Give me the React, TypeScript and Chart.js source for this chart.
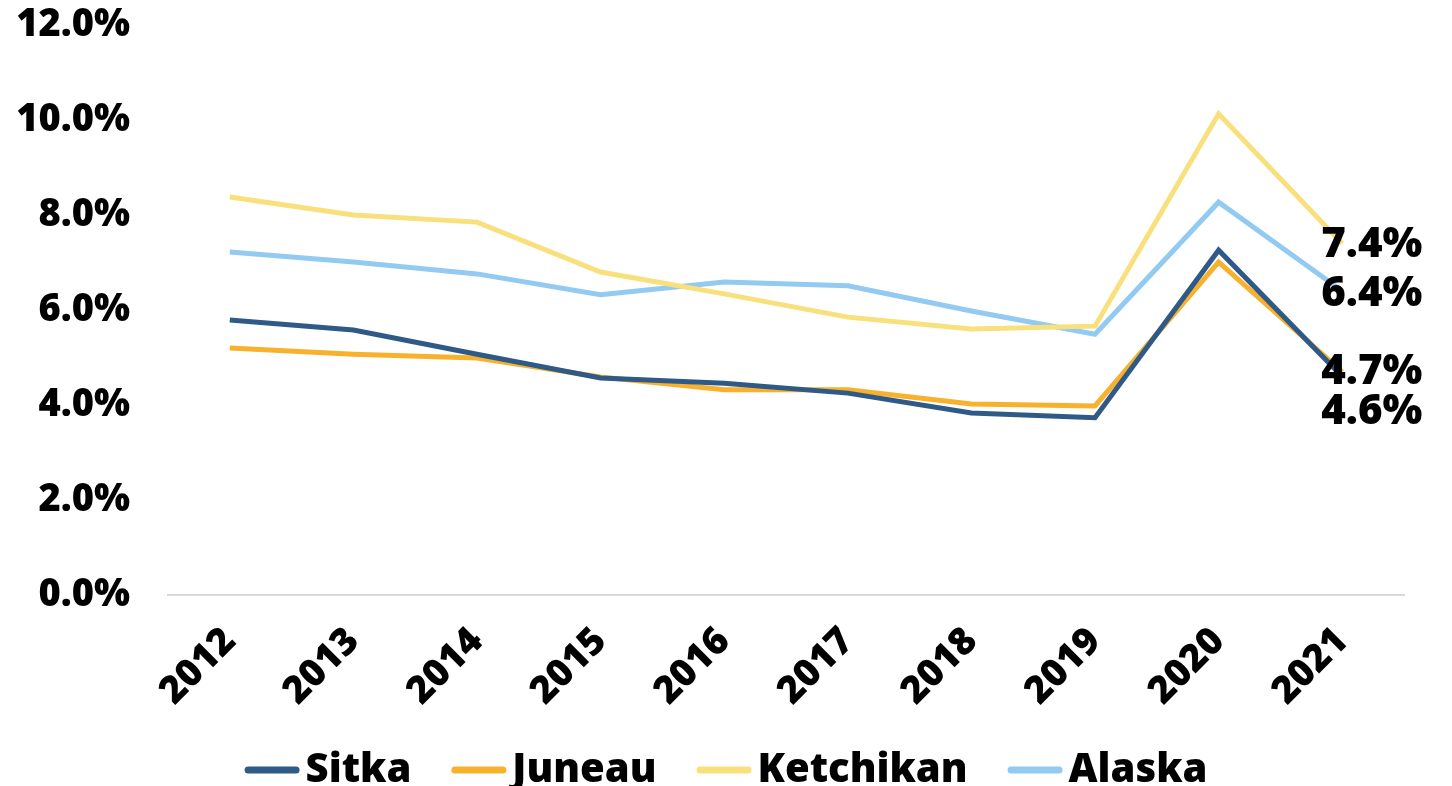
import React, { useEffect, useRef } from "react";
import { Chart, registerables } from "chart.js";

Chart.register(...registerables);

const years = ["2012", "2013", "2014", "2015", "2016", "2017", "2018", "2019", "2020", "2021"];
const sitka = [5.79, 5.58, 5.07, 4.57, 4.46, 4.25, 3.83, 3.73, 7.26, 4.6];
const juneau = [5.2, 5.07, 4.99, 4.59, 4.32, 4.32, 4.02, 3.98, 7.01, 4.7];
const ketchikan = [8.38, 8.0, 7.85, 6.8, 6.34, 5.85, 5.6, 5.66, 10.13, 7.4];
const alaska = [7.22, 7.01, 6.76, 6.32, 6.59, 6.51, 5.98, 5.49, 8.27, 6.4];
const yTicks = [0, 2, 4, 6, 8, 10, 12];

const FONT = "'Open Sans'";

const endLabels = {
  id: "endLabels",
  afterDatasetsDraw(chart: any) {
    const ctx = chart.ctx;
    const offsets = [36, 0, 2, 3];
    ctx.save();
    ctx.font = `800 42px ${FONT}`;
    ctx.fillStyle = "#000";
    ctx.textAlign = "left";
    ctx.textBaseline = "middle";
    chart.data.datasets.forEach((ds: any, i: number) => {
      const meta = chart.getDatasetMeta(i);
      const n = ds.data.length - 1;
      const pt = meta.data[n];
      if (!pt) return;
      ctx.fillText(Number(ds.data[n]).toFixed(1) + "%", pt.x - 21, pt.y + offsets[i]);
    });
    ctx.restore();
  },
};

const bottomLegend = {
  id: "bottomLegend",
  afterDraw(chart: any) {
    const ctx = chart.ctx;
    const lineW = 55;
    const gapText = 6;
    const gapItem = 40;
    ctx.save();
    ctx.font = `800 40px ${FONT}`;
    const items = chart.data.datasets.map((ds: any) => ({
      label: ds.label,
      color: ds.borderColor,
      w: ctx.measureText(ds.label).width,
    }));
    const total = items.reduce((s: number, it: any) => s + lineW + gapText + it.w, 0) + gapItem * (items.length - 1);
    let x = (chart.width - total) / 2;
    const lineY = 770;
    const baseY = 782;
    items.forEach((it: any) => {
      ctx.strokeStyle = it.color;
      ctx.lineWidth = 7;
      ctx.lineCap = "round";
      ctx.beginPath();
      ctx.moveTo(x + 3.5, lineY);
      ctx.lineTo(x + lineW - 3.5, lineY);
      ctx.stroke();
      ctx.fillStyle = "#000";
      ctx.textAlign = "left";
      ctx.textBaseline = "alphabetic";
      ctx.fillText(it.label, x + lineW + gapText, baseY);
      x += lineW + gapText + it.w + gapItem;
    });
    ctx.restore();
  },
};

export default function App() {
  const ref = useRef<HTMLCanvasElement | null>(null);
  useEffect(() => {
    document.body.style.margin = "0";
    const colors = ["#2F5A87", "#F7B12C", "#F8E07C", "#92CAF1"];
    const names = ["Sitka", "Juneau", "Ketchikan", "Alaska"];
    const series = [sitka, juneau, ketchikan, alaska];
    const chart = new Chart(ref.current as HTMLCanvasElement, {
      type: "line",
      data: {
        labels: years,
        datasets: series.map((d, i) => ({
          label: names[i],
          data: d,
          borderColor: colors[i],
          backgroundColor: colors[i],
          borderWidth: 5,
          pointRadius: 0,
          tension: 0,
          fill: false,
        })),
      },
      options: {
        animation: false,
        responsive: false,
        maintainAspectRatio: false,
        layout: { padding: { top: 0, left: 0, right: 48, bottom: 80 } },
        plugins: {
          tooltip: { enabled: false },
          legend: { display: false },
        },
        scales: {
          x: {
            offset: true,
            grid: { display: false, drawTicks: false },
            border: { display: true, color: "#D9D9D9", width: 2 },
            afterFit: (scale: any) => {
              scale.height = 111;
            },
            ticks: {
              color: "#000",
              minRotation: 45,
              maxRotation: 45,
              padding: 24,
              font: { family: FONT, weight: "800", size: 38 },
            },
          },
          y: {
            min: 0,
            max: 12,
            afterBuildTicks: (axis: any) => {
              axis.ticks = yTicks.map((v) => ({ value: v }));
            },
            afterFit: (scale: any) => {
              scale.width = 168;
              scale.paddingTop = 25;
              scale.paddingBottom = 0;
            },
            grid: { display: false, drawTicks: false },
            border: { display: false },
            ticks: {
              color: "#000",
              padding: 38,
              callback: (v: any) => Number(v).toFixed(1) + "%",
              font: { family: FONT, weight: "800", size: 38 },
            },
          },
        },
      },
      plugins: [endLabels, bottomLegend],
    });
    return () => chart.destroy();
  }, []);
  return <canvas ref={ref} width={1452} height={786} style={{ display: "block" }} />;
}
